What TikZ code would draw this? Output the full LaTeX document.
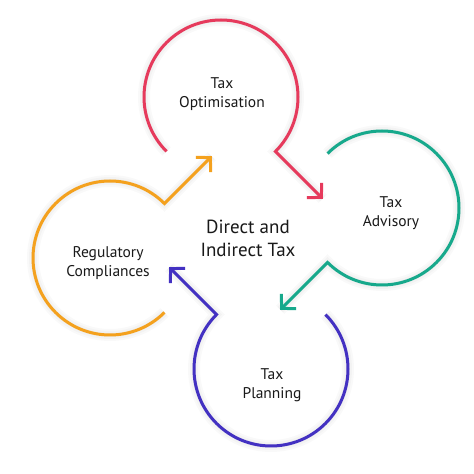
\documentclass[tikz,border=0pt]{standalone}
\usepackage{fontspec}
\setmainfont{PT Sans}
\usetikzlibrary{arrows.meta,calc}
\definecolor{cred}{HTML}{E63A5C}
\definecolor{cteal}{HTML}{17A98C}
\definecolor{cblue}{HTML}{4331C2}
\definecolor{corange}{HTML}{F4A11E}
\tikzset{
  ring/.style={line width=3pt, line cap=butt, -{Straight Barb[length=10pt,width=21pt,line width=3pt]}},
  shadowring/.style={draw=black, opacity=0.022},
  lbl/.style={align=center, font=\fontsize{15.5}{19}\selectfont, text=black!90},
  ctr/.style={align=center, font=\fontsize{19}{23}\selectfont, text=black!90}
}
\begin{document}
\begin{tikzpicture}[x=1pt,y=1pt]
\useasboundingbox (0,0) rectangle (474,474);
\fill[white] (0,0) rectangle (474,474);
\coordinate (C) at (246,241);
\coordinate (cr) at (221,377);
\coordinate (ct) at (382,266);
\coordinate (cb) at (271,105);
\coordinate (co) at (110,216);
% arc start points and arrow tips
\coordinate (rs) at ($(cr)+(225:77)$);
\coordinate (ts) at ($(ct)+(135:77)$);
\coordinate (bs) at ($(cb)+(45:77)$);
\coordinate (os) at ($(co)+(-45:77)$);
\coordinate (re) at ($(cr)+(-45:77)$);
\coordinate (te) at ($(ct)+(-135:77)$);
\coordinate (be) at ($(cb)+(135:77)$);
\coordinate (oe) at ($(co)+(45:77)$);
\coordinate (rtip) at ($(re)+(-45:67)$);
\coordinate (ttip) at ($(te)+(-135:67)$);
\coordinate (btip) at ($(be)+(135:67)$);
\coordinate (otip) at ($(oe)+(45:67)$);
% soft shadows
\foreach \w in {4,8,12}{
  \draw[shadowring, line width=\w pt, shift={(3,-5)}] (rs) arc[start angle=225,end angle=-45,radius=77] -- (rtip);
  \draw[shadowring, line width=\w pt, shift={(3,-5)}] (ts) arc[start angle=135,end angle=-135,radius=77] -- (ttip);
  \draw[shadowring, line width=\w pt, shift={(3,-5)}] (bs) arc[start angle=45,end angle=-225,radius=77] -- (btip);
  \draw[shadowring, line width=\w pt, shift={(3,-5)}] (os) arc[start angle=-45,end angle=-315,radius=77] -- (otip);
}
\draw[ring, cred] (rs) arc[start angle=225,end angle=-45,radius=77] -- (rtip);
\draw[ring, cteal] (ts) arc[start angle=135,end angle=-135,radius=77] -- (ttip);
\draw[ring, cblue] (bs) arc[start angle=45,end angle=-225,radius=77] -- (btip);
\draw[ring, corange] (os) arc[start angle=-45,end angle=-315,radius=77] -- (otip);
% labels
\node[lbl] (opt) at (222,380) {Tax\\Optimisation};
\node[lbl] (adv) at (391,261) {Tax\\Advisory};
\node[lbl] (pln) at (272,89) {Tax\\Planning};
\node[lbl] (reg) at (108,211) {Regulatory\\Compliances};
\node[ctr] (mid) at (248,236) {Direct and\\Indirect Tax};
\end{tikzpicture}
\end{document}
